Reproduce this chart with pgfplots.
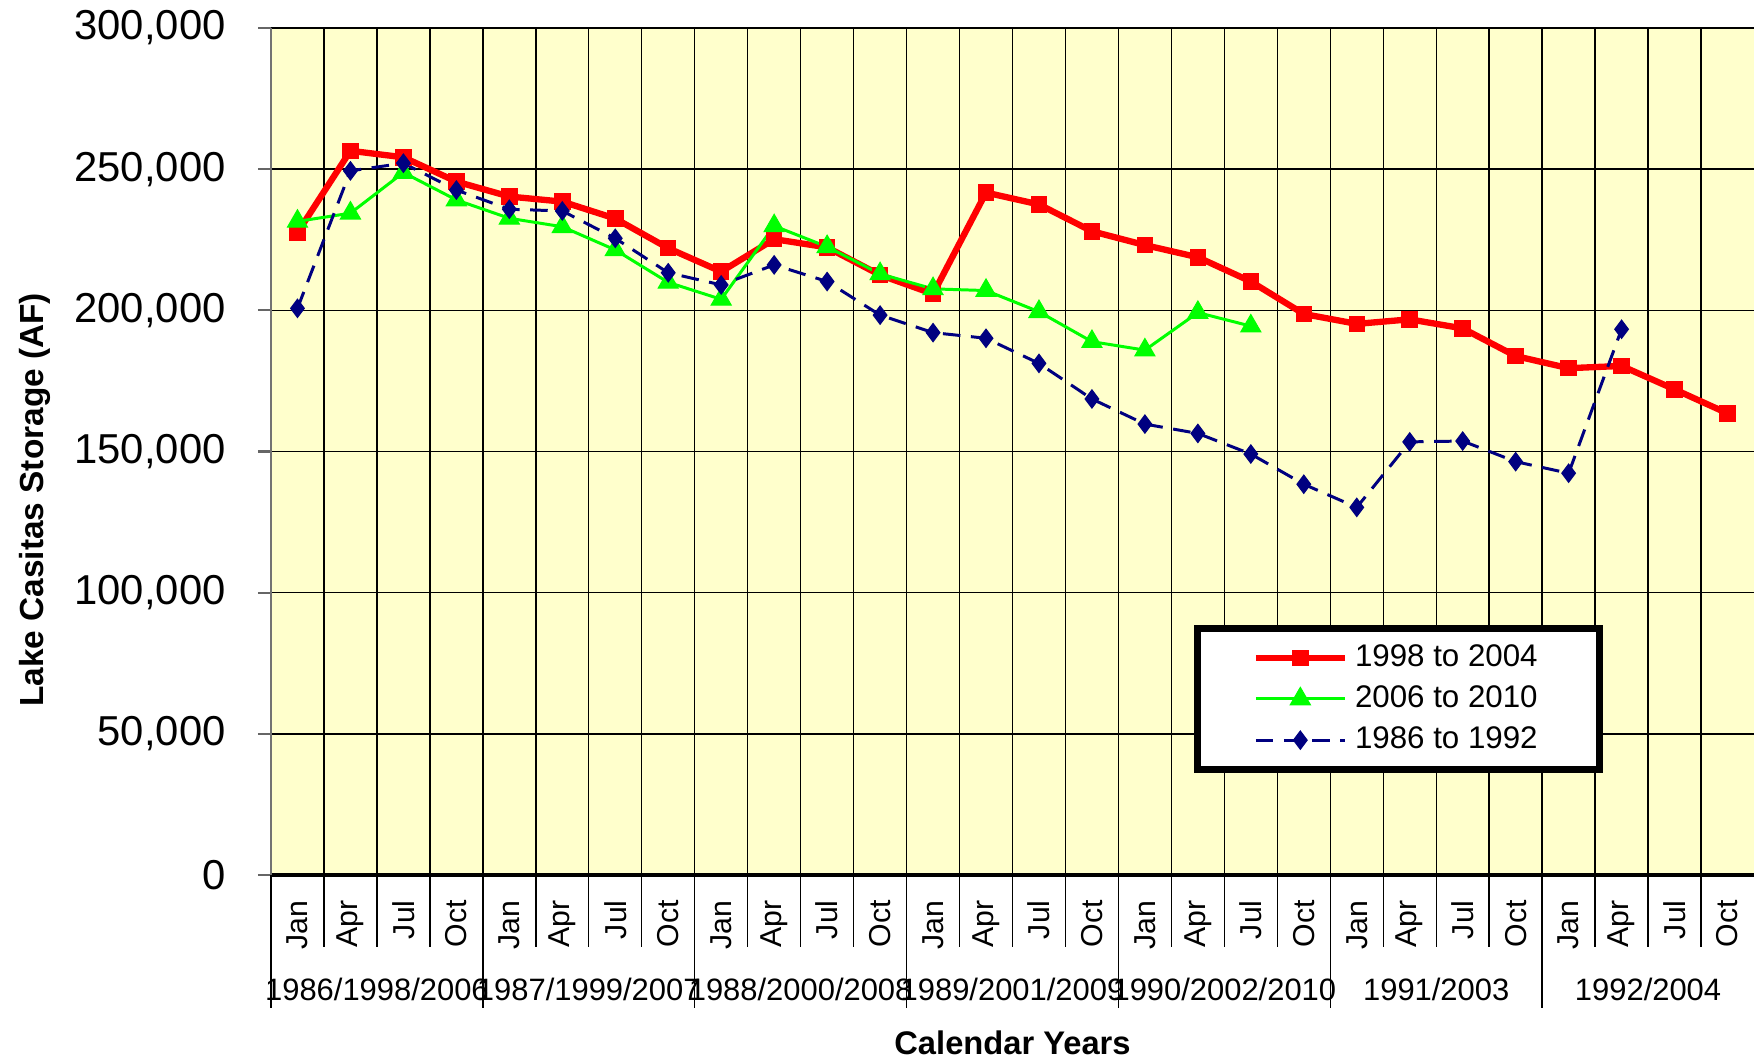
\documentclass[border=0pt]{standalone}
\usepackage{fontspec}
\setmainfont{Liberation Sans}
\usepackage{pgfplots}
\pgfplotsset{compat=1.18}
\definecolor{bgyellow}{HTML}{FFFFCC}
\definecolor{navyblue}{HTML}{000080}
\definecolor{puregreen}{HTML}{00FF00}
\definecolor{purered}{HTML}{FF0000}
\begin{document}
\begin{tikzpicture}
\begin{axis}[
 at={(0,0)}, anchor=south west,
 scale only axis, width=148.3mm, height=84.7mm,
 xmin=-0.5, xmax=27.5, ymin=0, ymax=300000,
 clip=false,
 axis background/.style={fill=bgyellow},
 axis x line*=bottom, axis y line*=left,
 x axis line style={-, black, line width=1.2pt},
 y axis line style={-, black!55, line width=0.8pt},
 xtick={0,...,27},
 xticklabels={Jan,Apr,Jul,Oct,Jan,Apr,Jul,Oct,Jan,Apr,Jul,Oct,Jan,Apr,Jul,Oct,Jan,Apr,Jul,Oct,Jan,Apr,Jul,Oct,Jan,Apr,Jul,Oct},
 xtick style={draw=none},
 minor xtick={0.5,1.5,...,26.5},
 xminorgrids=true, ymajorgrids=true, xmajorgrids=false,
 minor grid style={black, line width=0.4pt},
 major grid style={black, line width=0.4pt},
 ytick={0,50000,...,300000},
 scaled y ticks=false,
 tick align=outside,
 major tick length=1.3mm,
 minor tick length=0pt,
 ytick style={black!60, line width=0.6pt},
 /pgf/number format/assume math mode=true,
 yticklabel style={/pgf/number format/fixed, /pgf/number format/precision=0, /pgf/number format/1000 sep={,}, font=\fontsize{11.9}{13}\selectfont, xshift=-2mm},
 xticklabel style={rotate=90, anchor=east, font=\fontsize{8.6}{10}\selectfont},
 ylabel={Lake Casitas Storage (AF)},
 ylabel style={at={(axis description cs:-0.159,0.443)}, anchor=center, font=\bfseries\fontsize{9.5}{12}\selectfont},
 xlabel={Calendar Years},
 xlabel style={at={(axis description cs:0.5,-0.198)}, anchor=center, font=\bfseries\fontsize{9.3}{10}\selectfont},
 legend style={at={(rel axis cs:0.6225,0.2955)}, anchor=north west, draw=black, line width=2pt, fill=white, font=\fontsize{8.9}{10.5}\selectfont, inner xsep=5.5mm, inner ysep=0.9mm},
 legend cell align=left,
 legend image code/.code={\draw[mark repeat=2,mark phase=2] plot coordinates {(0cm,0cm) (0.445cm,0cm) (0.89cm,0cm)};},
]
\addplot[purered, line width=1.8pt, mark=square*, mark size=2.2pt, mark options={solid, fill=purered, draw=purered, line width=0.3pt}] table {
x y
0 227500
1 256500
2 254200
3 245600
4 240300
5 238500
6 232500
7 222000
8 213700
9 225200
10 222300
11 212500
12 205800
13 241700
14 237500
15 228000
16 223100
17 218800
18 210200
19 198700
20 195200
21 196800
22 193600
23 183800
24 179500
25 180300
26 172000
27 163500
};
\addlegendentry{1998 to 2004}
\addplot[puregreen, line width=0.85pt, mark=triangle*, mark size=3.3pt, mark options={solid, fill=puregreen, draw=puregreen, line width=0.3pt}] table {
x y
0 231500
1 234400
2 248800
3 239100
4 232600
5 229600
6 221400
7 209900
8 203900
9 229900
10 222500
11 212900
12 207600
13 207000
14 199500
15 188900
16 185900
17 199200
18 194400
};
\addlegendentry{2006 to 2010}
\addplot[navyblue, line width=0.85pt, dash pattern=on 5pt off 3pt, mark=diamond*, mark size=2.6pt, mark options={solid, fill=navyblue, draw=navyblue, line width=0.3pt}] table {
x y
0 200700
1 249400
2 252100
3 242600
4 235800
5 235200
6 225500
7 213300
8 209000
9 216100
10 210200
11 198300
12 192100
13 190100
14 181200
15 168600
16 159700
17 156400
18 149100
19 138400
20 130200
21 153400
22 153700
23 146400
24 142300
25 193300
};
\addlegendentry{1986 to 1992}
\pgfplotsinvokeforeach{0.5,1.5,2.5,4.5,5.5,6.5,8.5,9.5,10.5,12.5,13.5,14.5,16.5,17.5,18.5,20.5,21.5,22.5,24.5,25.5,26.5}{\draw[black, line width=0.4pt] (axis cs:#1,0) -- ([yshift=-7.2mm]axis cs:#1,0);}
\pgfplotsinvokeforeach{-0.5,3.5,7.5,11.5,15.5,19.5,23.5}{\draw[black, line width=0.4pt] (axis cs:#1,0) -- ([yshift=-13.3mm]axis cs:#1,0);}
\node[font=\fontsize{8.8}{10}\selectfont] at ([yshift=-11.4mm]axis cs:1.5,0) {1986/1998/2006};
\node[font=\fontsize{8.8}{10}\selectfont] at ([yshift=-11.4mm]axis cs:5.5,0) {1987/1999/2007};
\node[font=\fontsize{8.8}{10}\selectfont] at ([yshift=-11.4mm]axis cs:9.5,0) {1988/2000/2008};
\node[font=\fontsize{8.8}{10}\selectfont] at ([yshift=-11.4mm]axis cs:13.5,0) {1989/2001/2009};
\node[font=\fontsize{8.8}{10}\selectfont] at ([yshift=-11.4mm]axis cs:17.5,0) {1990/2002/2010};
\node[font=\fontsize{8.8}{10}\selectfont] at ([yshift=-11.4mm]axis cs:21.5,0) {1991/2003};
\node[font=\fontsize{8.8}{10}\selectfont] at ([yshift=-11.4mm]axis cs:25.5,0) {1992/2004};
\end{axis}
\pgfresetboundingbox
\useasboundingbox (-27.1mm,-18.5mm) rectangle (148.3mm,87.5mm);
\end{tikzpicture}
\end{document}
